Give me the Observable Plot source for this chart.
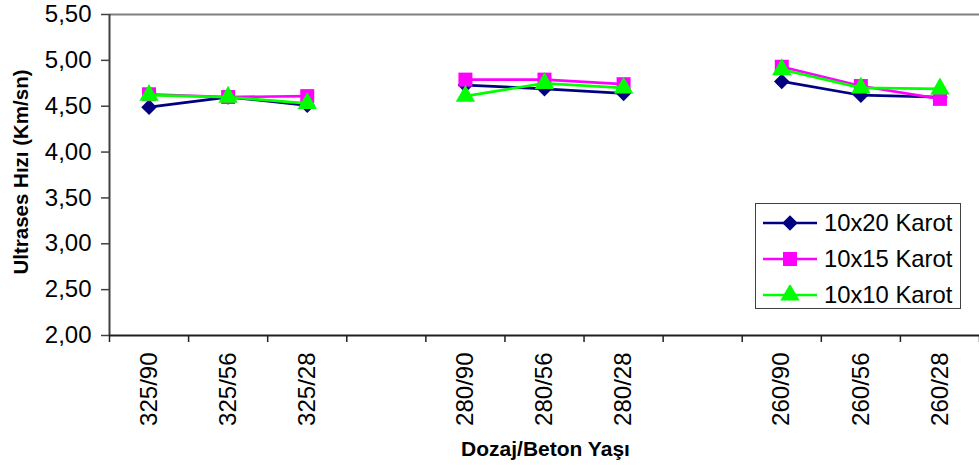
<!DOCTYPE html>
<html>
<head>
<meta charset="utf-8">
<script src="https://cdn.jsdelivr.net/npm/d3@7"></script>
<script src="https://cdn.jsdelivr.net/npm/@observablehq/plot@0.6"></script>
<style>
  html, body { margin: 0; padding: 0; background: #fff; }
  #wrap { position: relative; width: 979px; height: 468px; font-family: "Liberation Sans", Arial, sans-serif; }
  #legend { position: absolute; left: 755px; top: 203px; width: 204px; height: 104px; border: 1.5px solid #404040; background: #fff; }
  .row { position: absolute; left: 0; height: 36px; display: flex; align-items: center; font-size: 23.8px; color: #000; white-space: nowrap; }
  .row svg { margin-left: 7px; margin-right: 7px; }
</style>
</head>
<body>
<div id="wrap"><div id="legend"></div></div>
<script>
// Categories (blank entries are the gaps between dosage groups)
const categories = ["325/90", "325/56", "325/28", "", "280/90", "280/56", "280/28", "", "260/90", "260/56", "260/28"];
const seriesNames = ["10x20 Karot", "10x15 Karot", "10x10 Karot"];
const s10x20 = [4.49, 4.60, 4.51, null, 4.73, 4.69, 4.64, null, 4.77, 4.62, 4.60];
const s10x15 = [4.63, 4.60, 4.61, null, 4.79, 4.79, 4.74, null, 4.93, 4.72, 4.58];
const s10x10 = [4.62, 4.60, 4.53, null, 4.61, 4.75, 4.70, null, 4.90, 4.70, 4.69];
const yTicks = [2.0, 2.5, 3.0, 3.5, 4.0, 4.5, 5.0, 5.5];
const yTitle = "Ultrases Hızı (Km/sn)";
const xTitle = "Dozaj/Beton Yaşı";

const colors = ["#000080", "#FF00FF", "#00FF00"];
const symbols = ["diamond2", "square", "triangle"];
const radii = [7, 7.9, 7.2];
const allSeries = [s10x20, s10x15, s10x10];

const rows = [];
allSeries.forEach((vals, si) => {
  vals.forEach((v, i) => rows.push({series: seriesNames[si], idx: i, x: i + 0.5, v}));
});
const labels = categories.map((c, i) => ({c, x: i + 0.5})).filter(d => d.c !== "");
const fmt = v => d3.format(".2f")(v).replace(".", ",");

const marks = [
  Plot.ruleY([yTicks[yTicks.length - 1]], {stroke: "#808080", strokeWidth: 2}),
  Plot.axisY({ticks: yTicks, tickFormat: fmt, tickSize: 8, tickPadding: 10, fontSize: 24, label: null, stroke: "#404040", strokeWidth: 1.5}),
  Plot.axisX({ticks: d3.range(categories.length + 1), tickFormat: () => "", tickSize: 7, label: null, stroke: "#202020", strokeWidth: 1.5}),
  Plot.ruleX([0], {stroke: "#404040", strokeWidth: 2}),
  Plot.ruleY([yTicks[0]], {stroke: "#202020", strokeWidth: 2}),
  Plot.text(labels, {x: "x", y: () => yTicks[0], text: "c", rotate: -90, textAnchor: "end", lineAnchor: "middle", dy: 17, fontSize: 24, fill: "#000"}),
  Plot.text([yTitle], {frameAnchor: "left", rotate: -90, textAnchor: "middle", lineAnchor: "middle", dx: -88, dy: -3, fontSize: 20.5, fontWeight: "bold", fill: "#000"}),
  Plot.text([xTitle], {frameAnchor: "bottom", textAnchor: "middle", lineAnchor: "middle", dy: 114, dx: 1, fontSize: 21, fontWeight: "bold", fill: "#000"})
];
seriesNames.forEach((name, si) => {
  const data = rows.filter(d => d.series === name);
  marks.push(Plot.line(data, {x: "x", y: "v", stroke: colors[si], strokeWidth: 2.7, defined: d => d.v != null}));
  marks.push(Plot.dot(data.filter(d => d.v != null), {x: "x", y: "v", symbol: () => symbols[si], r: radii[si], fill: colors[si], stroke: "none"}));
});

const chart = Plot.plot({
  width: 979,
  height: 468,
  marginLeft: 109,
  marginRight: 0,
  marginTop: 14,
  marginBottom: 133,
  style: {fontFamily: "'Liberation Sans', Arial, sans-serif", background: "#fff", overflow: "visible"},
  x: {type: "linear", domain: [0, categories.length], axis: null},
  y: {domain: [yTicks[0], yTicks[yTicks.length - 1]], axis: null},
  marks
});
document.getElementById("wrap").prepend(chart);

// Legend
const legend = document.getElementById("legend");
const symPaths = {
  diamond2: d3.symbol(d3.symbolDiamond2, Math.PI * radii[0] ** 2)(),
  square: d3.symbol(d3.symbolSquare, Math.PI * radii[1] ** 2)(),
  triangle: d3.symbol(d3.symbolTriangle, Math.PI * radii[2] ** 2)()
};
seriesNames.forEach((name, si) => {
  const row = document.createElement("div");
  row.className = "row";
  row.style.top = (1 + si * 36) + "px";
  row.innerHTML = `<svg width="54" height="20" viewBox="-27 -10 54 20"><line x1="-27" x2="27" y1="0" y2="0" stroke="${colors[si]}" stroke-width="2.7"/><path d="${symPaths[symbols[si]]}" fill="${colors[si]}"/></svg><span>${name}</span>`;
  legend.appendChild(row);
});
</script>
</body>
</html>
